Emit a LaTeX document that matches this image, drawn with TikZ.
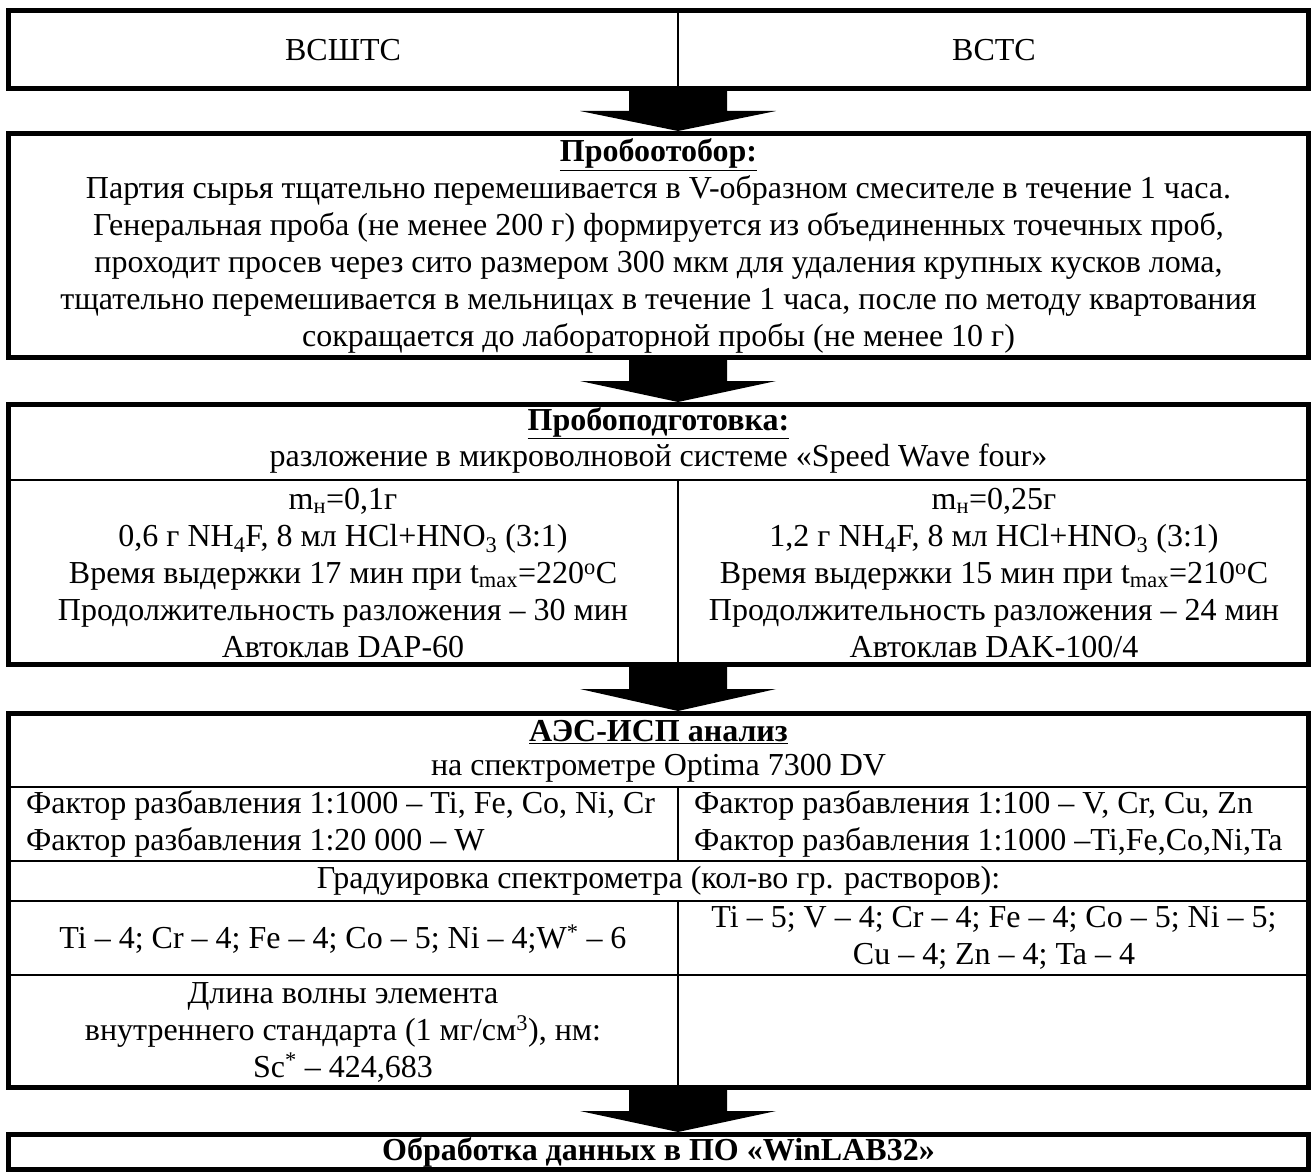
\documentclass[tikz,border=0pt]{standalone}
\usepackage{fontspec}
\setmainfont{Liberation Serif}
\begin{document}
\begin{tikzpicture}[x=1pt,y=-1pt,
    frame/.style={line width=5pt},
    rule/.style={line width=2.5pt},
    txt/.style={font=\fontsize{32}{37}\selectfont, align=center, inner sep=0pt},
    head/.style={txt, font=\fontsize{32}{37}\selectfont\bfseries}]
  \useasboundingbox (0,0) rectangle (1314,1174);
  % boxes
  \draw[frame] (8.5,10.5) rectangle (1308.5,88.5);
  \draw[rule] (678,10.5) -- (678,88.5);
  \draw[frame] (8.5,133.5) rectangle (1308.5,357.5);
  \draw[frame] (8.5,404.5) rectangle (1308.5,664.5);
  \draw[rule] (8.5,480) -- (1308.5,480);
  \draw[rule] (678,480) -- (678,664.5);
  \draw[frame] (8.5,713.5) rectangle (1308.5,1087.5);
  \draw[rule] (8.5,787) -- (1308.5,787);
  \draw[rule] (8.5,861) -- (1308.5,861);
  \draw[rule] (8.5,901) -- (1308.5,901);
  \draw[rule] (8.5,975) -- (1308.5,975);
  \draw[rule] (678,787) -- (678,861);
  \draw[rule] (678,901) -- (678,1087.5);
  \draw[frame] (8.5,1134.5) rectangle (1308.5,1169.5);
  % block arrows
  \foreach \t/\b in {91/131, 360/402, 667/711, 1090/1132} {
    \fill (629,\t) -- (727,\t) -- (727,{(\t+\b)/2}) -- (776,{(\t+\b)/2})
      -- (678,\b) -- (580,{(\t+\b)/2}) -- (629,{(\t+\b)/2}) -- cycle;
  }
  % texts
  \node[txt] (vsshts) at (343,50) {ВСШТС};
  \node[txt] (vsts) at (994,50) {ВСТС};
  \node[txt] (sampling) at (658.5,246)
    {\textbf{\underline{Пробоотобор:}}\\
     Партия сырья тщательно перемешивается в V-образном смесителе в течение 1 часа.\\
     Генеральная проба (не менее 200 г) формируется из объединенных точечных проб,\\
     проходит просев через сито размером 300 мкм для удаления крупных кусков лома,\\
     тщательно перемешивается в мельницах в течение 1 часа, после по методу квартования\\
     сокращается до лабораторной пробы (не менее 10 г)};
  \node[head] (prep) at (658.5,423) {\underline{Пробоподготовка:}};
  \node[txt] (prepsub) at (658.5,459) {разложение в микроволновой системе «Speed Wave four»};
  \node[txt] (prepL) at (343,573)
    {m\textsubscript{н}=0,1г\\
     0,6 г NH\textsubscript{4}F, 8 мл HCl+HNO\textsubscript{3} (3:1)\\
     Время выдержки 17 мин при t\textsubscript{max}=220\textsuperscript{o}C\\
     Продолжительность разложения – 30 мин\\
     Автоклав DAP-60};
  \node[txt] (prepR) at (994,573)
    {m\textsubscript{н}=0,25г\\
     1,2 г NH\textsubscript{4}F, 8 мл HCl+HNO\textsubscript{3} (3:1)\\
     Время выдержки 15 мин при t\textsubscript{max}=210\textsuperscript{o}C\\
     Продолжительность разложения – 24 мин\\
     Автоклав DAK-100/4};
  \node[head] (icp) at (658.5,732) {\underline{АЭС-ИСП анализ}};
  \node[txt] (icpsub) at (658.5,768) {на спектрометре Optima 7300 DV};
  \node[txt, align=left, anchor=west] (dilL) at (26,824)
    {Фактор разбавления 1:1000 – Ti, Fe, Co, Ni, Cr\\
     Фактор разбавления 1:20 000 – W};
  \node[txt, align=left, anchor=west] (dilR) at (694,824)
    {Фактор разбавления 1:100 – V, Cr, Cu, Zn\\
     Фактор разбавления 1:1000 –Ti,Fe,Co,Ni,Ta};
  \node[txt] (cal) at (658.5,881) {Градуировка спектрометра (кол-во гр. растворов):};
  \node[txt] (calL) at (343,939) {Ti – 4; Cr – 4; Fe – 4; Co – 5; Ni – 4;W\textsuperscript{*} – 6};
  \node[txt] (calR) at (994,938)
    {Ti – 5; V – 4; Cr – 4; Fe – 4; Co – 5; Ni – 5;\\ Cu – 4; Zn – 4; Ta – 4};
  \node[txt] (istd) at (343,1032)
    {Длина волны элемента\\
     внутреннего стандарта (1 мг/см\textsuperscript{3}), нм:\\
     Sc\textsuperscript{*} – 424,683};
  \node[head] (soft) at (658.5,1152) {Обработка данных в ПО «WinLAB32»};
\end{tikzpicture}
\end{document}
